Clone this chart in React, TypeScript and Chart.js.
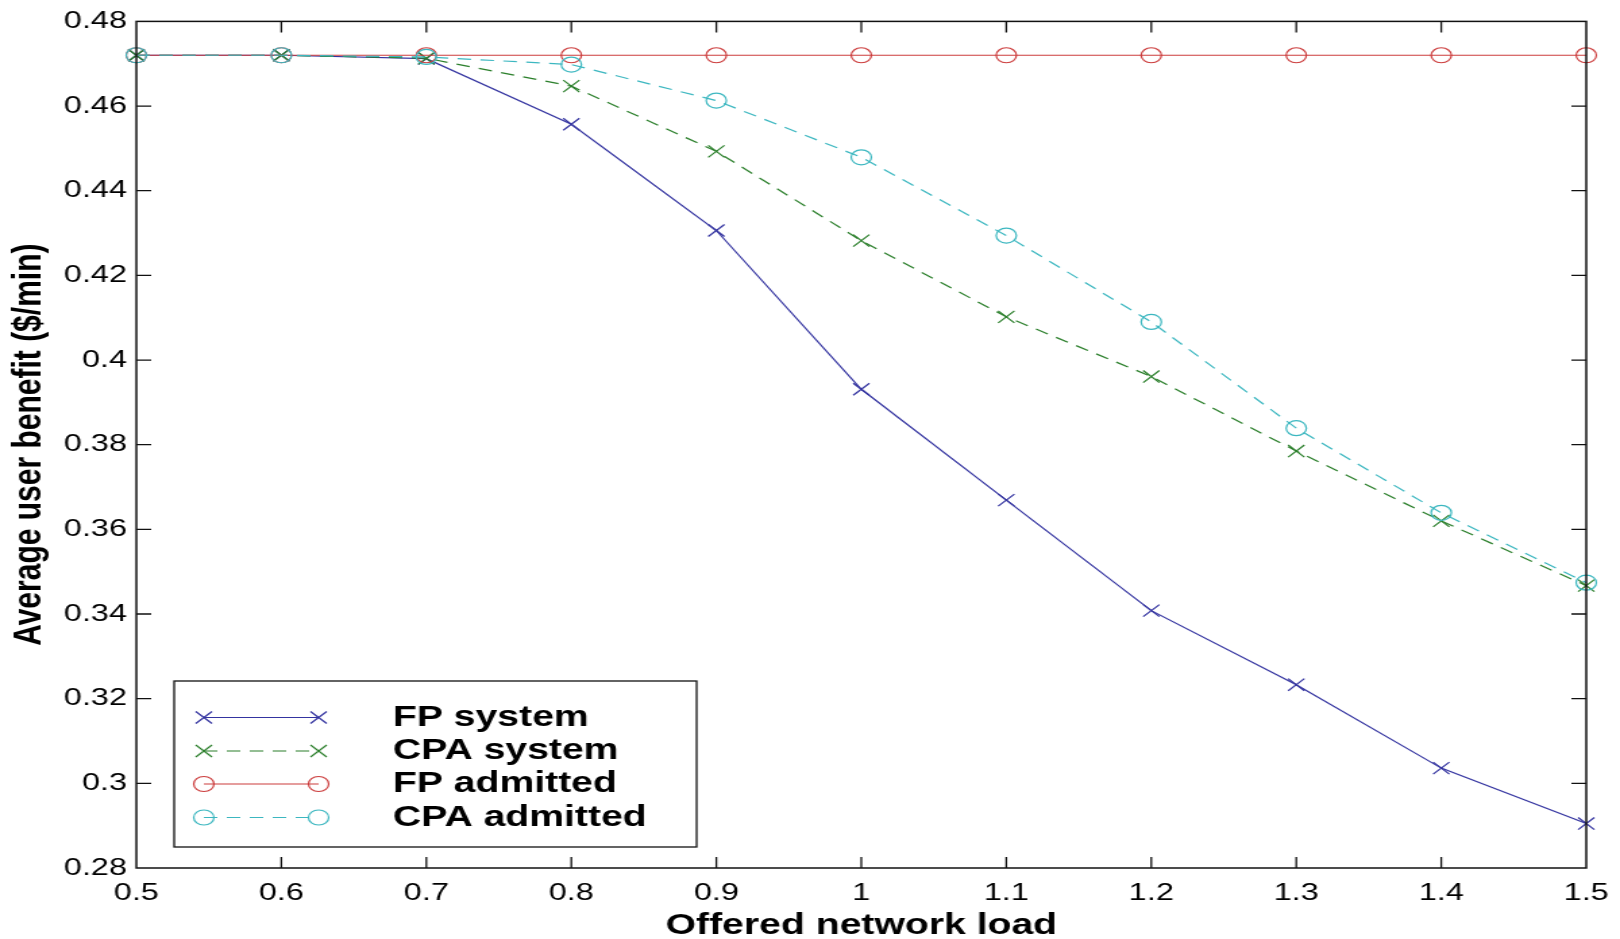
import React, { useEffect, useRef } from 'react';
import { Chart, registerables } from 'chart.js';

Chart.register(...registerables);

// Offered network load (x) and average user benefit in $/min (y)
const loads = [0.5, 0.6, 0.7, 0.8, 0.9, 1.0, 1.1, 1.2, 1.3, 1.4, 1.5];
const fpSystem = [0.472, 0.472, 0.4712, 0.4557, 0.4306, 0.3931, 0.3669, 0.3408, 0.3233, 0.3036, 0.2905];
const cpaSystem = [0.472, 0.472, 0.4713, 0.4647, 0.4493, 0.4282, 0.4102, 0.3961, 0.3785, 0.362, 0.3467];
const fpAdmitted = [0.472, 0.472, 0.472, 0.472, 0.472, 0.472, 0.472, 0.472, 0.472, 0.472, 0.472];
const cpaAdmitted = [0.472, 0.472, 0.4716, 0.4698, 0.4613, 0.4479, 0.4294, 0.409, 0.3839, 0.3639, 0.3474];

const seriesLabels = ['FP system', 'CPA system', 'FP admitted', 'CPA admitted'];

const xTickValues = [0.5, 0.6, 0.7, 0.8, 0.9, 1.0, 1.1, 1.2, 1.3, 1.4, 1.5];
const xTickLabels = ['0.5', '0.6', '0.7', '0.8', '0.9', '1', '1.1', '1.2', '1.3', '1.4', '1.5'];
const yTickValues = [0.28, 0.3, 0.32, 0.34, 0.36, 0.38, 0.4, 0.42, 0.44, 0.46, 0.48];
const yTickLabels = ['0.28', '0.3', '0.32', '0.34', '0.36', '0.38', '0.4', '0.42', '0.44', '0.46', '0.48'];

const FONT = '"Liberation Sans", Arial, Helvetica, sans-serif';
const BLUE = '#3434a0';
const GREEN = '#2b7f2b';
const RED = '#cc3d3d';
const CYAN = '#3cb7c0';

// canvas is drawn narrow and shown stretched horizontally
const RENDER_W = 1200;
const VIEW_W = 1620;
const VIEW_H = 939;

const toPoints = (ys: number[]) => loads.map((x, i) => ({ x, y: ys[i] }));

function drawMarker(ctx: CanvasRenderingContext2D, style: string, x: number, y: number, r: number) {
  ctx.beginPath();
  if (style === 'crossRot') {
    const d = Math.cos(Math.PI / 4) * r;
    ctx.moveTo(x - d, y - d);
    ctx.lineTo(x + d, y + d);
    ctx.moveTo(x - d, y + d);
    ctx.lineTo(x + d, y - d);
  } else {
    ctx.arc(x, y, r, 0, Math.PI * 2);
  }
  ctx.stroke();
}

const framePlugin = {
  id: 'matlabFrame',
  afterDatasetsDraw(chart: any) {
    const { ctx, chartArea } = chart;
    const { left, right, top, bottom } = chartArea;
    const xs = chart.scales.x;
    const ys = chart.scales.y;
    ctx.save();
    ctx.strokeStyle = '#111';
    ctx.lineWidth = 1.5;
    ctx.strokeRect(left, top, right - left, bottom - top);
    ctx.lineWidth = 1.3;
    ctx.beginPath();
    const tick = 11;
    xTickValues.forEach((v) => {
      const px = xs.getPixelForValue(v);
      if (px <= left + 1 || px >= right - 1) return;
      ctx.moveTo(px, bottom);
      ctx.lineTo(px, bottom - tick);
      ctx.moveTo(px, top);
      ctx.lineTo(px, top + tick);
    });
    yTickValues.forEach((v) => {
      const py = ys.getPixelForValue(v);
      if (py <= top + 1 || py >= bottom - 1) return;
      ctx.moveTo(left, py);
      ctx.lineTo(left + tick, py);
      ctx.moveTo(right, py);
      ctx.lineTo(right - tick, py);
    });
    ctx.stroke();
    ctx.restore();
  },
};

const legendPlugin = {
  id: 'boxLegend',
  afterDraw(chart: any) {
    const { ctx } = chart;
    const box = { x: 129, y: 681, w: 387, h: 166 };
    const rows = [717.5, 751, 784, 817.5];
    const lineX0 = 151;
    const lineX1 = 236;
    const textX = 291;
    ctx.save();
    ctx.fillStyle = '#fff';
    ctx.fillRect(box.x, box.y, box.w, box.h);
    ctx.strokeStyle = '#111';
    ctx.lineWidth = 1.3;
    ctx.strokeRect(box.x, box.y, box.w, box.h);
    chart.data.datasets.forEach((ds: any, i: number) => {
      const y = rows[i];
      ctx.strokeStyle = ds.borderColor;
      ctx.lineWidth = ds.borderWidth;
      ctx.setLineDash(ds.borderDash || []);
      ctx.beginPath();
      ctx.moveTo(lineX0, y);
      ctx.lineTo(lineX1, y);
      ctx.stroke();
      ctx.setLineDash([]);
      ctx.lineWidth = ds.pointBorderWidth;
      drawMarker(ctx, ds.pointStyle, lineX0, y, ds.pointRadius);
      drawMarker(ctx, ds.pointStyle, lineX1, y, ds.pointRadius);
      ctx.fillStyle = '#000';
      ctx.font = `bold 29px ${FONT}`;
      ctx.textBaseline = 'middle';
      ctx.textAlign = 'left';
      ctx.fillText(ds.label, textX, y);
    });
    ctx.restore();
  },
};

function makeDataset(label: string, values: number[], color: string, dashed: boolean, marker: string, order: number) {
  const isCross = marker === 'crossRot';
  return {
    label,
    data: toPoints(values),
    borderColor: color,
    borderWidth: 1.2,
    borderDash: dashed ? [10, 7] : [],
    pointStyle: marker,
    pointRadius: isCross ? 8.5 : 7.5,
    pointBorderWidth: 1.2,
    pointBorderColor: color,
    pointBackgroundColor: 'rgba(0,0,0,0)',
    tension: 0,
    fill: false,
    clip: false,
    order,
  };
}

export default function App() {
  const canvasRef = useRef<HTMLCanvasElement | null>(null);

  useEffect(() => {
    document.body.style.margin = '0';
    const canvas = canvasRef.current;
    if (!canvas) return;
    const chart = new Chart(canvas, {
      type: 'line',
      data: {
        datasets: [
          makeDataset(seriesLabels[0], fpSystem, BLUE, false, 'crossRot', 4),
          makeDataset(seriesLabels[1], cpaSystem, GREEN, true, 'crossRot', 3),
          makeDataset(seriesLabels[2], fpAdmitted, RED, false, 'circle', 2),
          makeDataset(seriesLabels[3], cpaAdmitted, CYAN, true, 'circle', 1),
        ] as any,
      },
      options: {
        animation: false,
        responsive: false,
        devicePixelRatio: 1,
        events: [],
        layout: { padding: { left: 0, right: 25, top: 18, bottom: 0 } },
        plugins: {
          legend: { display: false },
          tooltip: { enabled: false },
        },
        scales: {
          x: {
            type: 'linear',
            min: 0.5,
            max: 1.5,
            afterBuildTicks: (scale: any) => {
              scale.ticks = xTickValues.map((value) => ({ value }));
            },
            afterFit: (scale: any) => {
              scale.height = 71;
              scale.paddingLeft = 0;
              scale.paddingRight = 0;
            },
            grid: { display: false, drawTicks: false },
            border: { display: false },
            ticks: {
              padding: 11,
              color: '#000',
              font: { family: FONT, size: 24 },
              maxRotation: 0,
              autoSkip: false,
              callback: (_v: any, i: number) => xTickLabels[i],
            },
            title: {
              display: true,
              text: 'Offered network load',
              color: '#000',
              font: { family: FONT, size: 29, weight: 'bold', lineHeight: 1 },
              padding: { top: 0, bottom: -1 },
            },
          },
          y: {
            type: 'linear',
            min: 0.28,
            max: 0.48,
            afterBuildTicks: (scale: any) => {
              scale.ticks = yTickValues.map((value) => ({ value }));
            },
            afterFit: (scale: any) => {
              scale.width = 101;
            },
            grid: { display: false, drawTicks: false },
            border: { display: false },
            ticks: {
              padding: 7,
              color: '#000',
              font: { family: FONT, size: 24 },
              autoSkip: false,
              callback: (_v: any, i: number) => yTickLabels[i],
            },
            title: {
              display: true,
              text: 'Average user benefit ($/min)',
              color: '#000',
              font: { family: FONT, size: 30, weight: 'bold' },
              padding: { top: 4, bottom: 0 },
            },
          },
        },
      } as any,
      plugins: [framePlugin, legendPlugin],
    });
    return () => chart.destroy();
  }, []);

  return (
    <div style={{ width: VIEW_W, height: VIEW_H, overflow: 'hidden', background: '#fff' }}>
      <canvas
        ref={canvasRef}
        width={RENDER_W}
        height={VIEW_H}
        style={{ width: `${VIEW_W}px`, height: `${VIEW_H}px`, display: 'block' }}
      />
    </div>
  );
}
